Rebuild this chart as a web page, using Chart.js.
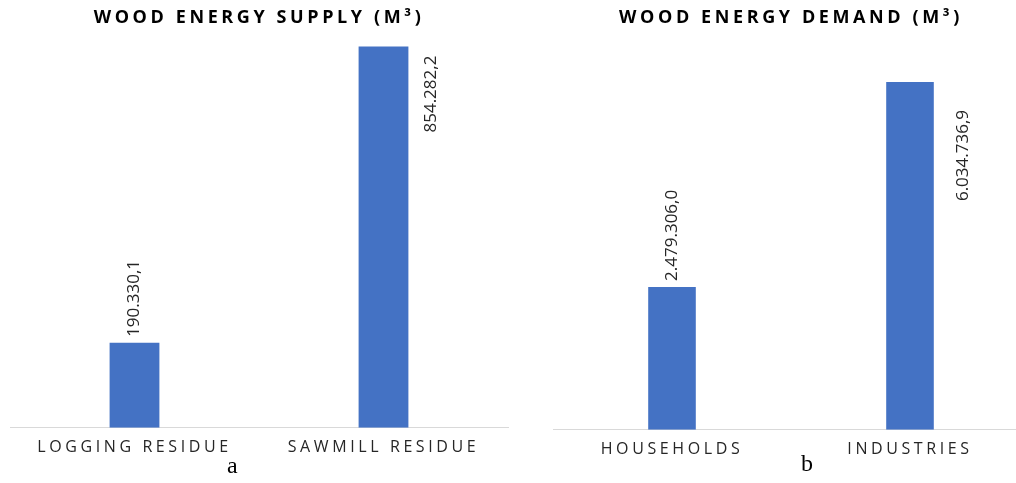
<!DOCTYPE html>
<html>
<head>
<meta charset="utf-8">
<script src="https://cdn.jsdelivr.net/npm/chart.js@4"></script>
<style>
  html, body { margin: 0; padding: 0; background: #fff; overflow: hidden; }
  body { width: 1016px; height: 483px; position: relative; }
  .box { position: absolute; top: 0; }
  .tag { position: absolute; font-family: "Liberation Serif", serif; font-size: 24px; color: #000; }
</style>
</head>
<body>
<div class="box" style="left:0;"><canvas id="supplyChart" width="518" height="483"></canvas></div>
<div class="box" style="left:543px;"><canvas id="demandChart" width="496" height="483"></canvas></div>
<div class="tag" style="left:227px; top:452px;">a</div>
<div class="tag" style="left:801px; top:450px;">b</div>
<script>
const supplyLabels = ["LOGGING RESIDUE", "SAWMILL RESIDUE"];
const supplyValues = [190330.1, 854282.2];
const supplyMax = 870000;

const demandLabels = ["HOUSEHOLDS", "INDUSTRIES"];
const demandValues = [2479306.0, 6034736.9];
const demandMax = 6770000;

const FONT = "'Open Sans', sans-serif";
const BAR_COLOR = "#4472C4";

// 190330.1 -> "190.330,1"
function fmt(v) {
  const parts = v.toFixed(1).split(".");
  return parts[0].replace(/\B(?=(\d{3})+(?!\d))/g, ".") + "," + parts[1];
}

// wide letter spacing for title and axis labels
const spacing = {
  id: "spacing",
  beforeDraw(chart, args, opts) {
    chart.ctx.letterSpacing = opts.px + "px";
  }
};

// rotated value labels, above the bar or beside it if no room
const barLabels = {
  id: "barLabels",
  afterDatasetsDraw(chart, args, opts) {
    const ctx = chart.ctx;
    const meta = chart.getDatasetMeta(0);
    const values = chart.data.datasets[0].data;
    ctx.save();
    ctx.letterSpacing = "0px";
    ctx.font = opts.size + "px " + FONT;
    ctx.fillStyle = "#262626";
    ctx.textAlign = "left";
    ctx.textBaseline = "middle";
    meta.data.forEach((bar, i) => {
      const text = fmt(values[i]);
      const w = ctx.measureText(text).width;
      ctx.save();
      if (bar.y - w - opts.gap < chart.chartArea.top) {
        ctx.translate(bar.x + bar.width / 2 + opts.dx, bar.y + opts.dy + w);
      } else {
        ctx.translate(bar.x, bar.y - opts.gap);
      }
      ctx.rotate(-Math.PI / 2);
      ctx.fillText(text, 0, 0);
      ctx.restore();
    });
    ctx.restore();
  }
};

function makeChart(id, title, labels, values, max, bottomPad, side) {
  return new Chart(document.getElementById(id), {
    type: "bar",
    data: {
      labels: labels,
      datasets: [{
        data: values,
        backgroundColor: BAR_COLOR,
        barPercentage: 0.2,
        categoryPercentage: 1
      }]
    },
    options: {
      responsive: false,
      animation: false,
      layout: { padding: { left: 10, right: 10, top: 0, bottom: bottomPad } },
      scales: {
        x: {
          grid: { display: false, drawTicks: false },
          border: { display: true, color: "#d9d9d9", width: 1 },
          ticks: {
            color: "#262626",
            padding: 10,
            maxRotation: 0,
            autoSkip: false,
            font: { family: FONT, size: 16 }
          }
        },
        y: { display: false, min: 0, max: max }
      },
      plugins: {
        legend: { display: false },
        tooltip: { enabled: false },
        title: {
          display: true,
          text: title,
          color: "#000",
          font: { family: FONT, size: 18, weight: "bold" },
          padding: { top: 7, bottom: 11 }
        },
        spacing: { px: 3.6 },
        barLabels: { size: 17, gap: 6, dx: side.dx, dy: side.dy }
      }
    },
    plugins: [spacing, barLabels]
  });
}

makeChart("supplyChart", "WOOD ENERGY SUPPLY (M³)", supplyLabels, supplyValues, supplyMax, 16, { dx: 23, dy: 9 });
makeChart("demandChart", "WOOD ENERGY DEMAND (M³)", demandLabels, demandValues, demandMax, 14, { dx: 29, dy: 28 });
</script>
</body>
</html>
